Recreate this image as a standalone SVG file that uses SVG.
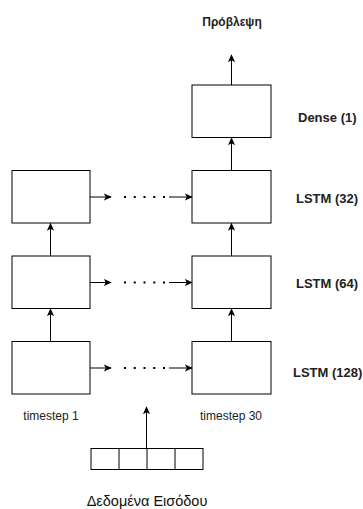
<svg xmlns="http://www.w3.org/2000/svg" width="363" height="509" viewBox="0 0 363 509">
<defs>
<marker id="ah" viewBox="0 0 10 10" refX="9" refY="5" markerWidth="8" markerHeight="8" markerUnits="userSpaceOnUse" orient="auto">
<path d="M0,0.5 L10,5 L0,9.5 L2.5,5 Z" fill="#000"/>
</marker>
<style>
.box{fill:#fff;stroke:#000;stroke-width:1}
.ln{fill:none;stroke:#000;stroke-width:1}
.dot{fill:none;stroke:#000;stroke-width:2;stroke-dasharray:2 7.75}
.lbl{font-family:"Liberation Sans",Arial,sans-serif;font-size:13px;font-weight:bold;fill:#222}
.ts{font-family:"Liberation Sans",Arial,sans-serif;font-size:12px;fill:#222}
.big{font-family:"Liberation Sans",Arial,sans-serif;font-size:14.5px;fill:#111}
</style>
</defs>
<rect width="363" height="509" fill="#fff"/>
<g id="connectors">
<line class="ln" x1="231.5" y1="85" x2="231.5" y2="55" marker-end="url(#ah)"/>
<line class="ln" x1="231.5" y1="170.5" x2="231.5" y2="138" marker-end="url(#ah)"/>
<line class="ln" x1="231.5" y1="256" x2="231.5" y2="223.5" marker-end="url(#ah)"/>
<line class="ln" x1="231.5" y1="341.5" x2="231.5" y2="309" marker-end="url(#ah)"/>
<line class="ln" x1="50.5" y1="256" x2="50.5" y2="223.5" marker-end="url(#ah)"/>
<line class="ln" x1="50.5" y1="341.5" x2="50.5" y2="309" marker-end="url(#ah)"/>
<line class="ln" x1="146.5" y1="448" x2="146.5" y2="407" marker-end="url(#ah)"/>
<line class="ln" x1="90" y1="197" x2="111" y2="197" marker-end="url(#ah)"/>
<line class="dot" x1="124" y1="197" x2="165" y2="197"/>
<line class="ln" x1="169" y1="197" x2="192" y2="197" marker-end="url(#ah)"/>
<line class="ln" x1="90" y1="282.5" x2="111" y2="282.5" marker-end="url(#ah)"/>
<line class="dot" x1="124" y1="282.5" x2="165" y2="282.5"/>
<line class="ln" x1="169" y1="282.5" x2="192" y2="282.5" marker-end="url(#ah)"/>
<line class="ln" x1="90" y1="368" x2="111" y2="368" marker-end="url(#ah)"/>
<line class="dot" x1="124" y1="368" x2="165" y2="368"/>
<line class="ln" x1="169" y1="368" x2="192" y2="368" marker-end="url(#ah)"/>
</g>
<g id="dense"><rect class="box" x="192" y="85" width="79" height="52.5"/></g>
<g id="lstm32_t1"><rect class="box" x="12" y="170.5" width="78" height="52.5"/></g>
<g id="lstm32_t30"><rect class="box" x="192" y="170.5" width="79" height="52.5"/></g>
<g id="lstm64_t1"><rect class="box" x="12" y="256" width="78" height="52.5"/></g>
<g id="lstm64_t30"><rect class="box" x="192" y="256" width="79" height="52.5"/></g>
<g id="lstm128_t1"><rect class="box" x="12" y="341.5" width="78" height="52.5"/></g>
<g id="lstm128_t30"><rect class="box" x="192" y="341.5" width="79" height="52.5"/></g>
<g id="input">
<rect class="box" x="91" y="448.5" width="112" height="21"/>
<line class="ln" x1="119" y1="448.5" x2="119" y2="469.5"/>
<line class="ln" x1="147" y1="448.5" x2="147" y2="469.5"/>
<line class="ln" x1="175" y1="448.5" x2="175" y2="469.5"/>
</g>
<g id="labels">
<text class="lbl" x="232" y="26" text-anchor="middle" style="font-size:12px">Πρόβλεψη</text>
<text class="lbl" x="298" y="122">Dense (1)</text>
<text class="lbl" x="296" y="202.5">LSTM (32)</text>
<text class="lbl" x="296" y="288">LSTM (64)</text>
<text class="lbl" x="293" y="377">LSTM (128)</text>
<text class="ts" x="51" y="420" text-anchor="middle">timestep 1</text>
<text class="ts" x="231" y="420" text-anchor="middle">timestep 30</text>
<text class="big" x="147" y="506" text-anchor="middle">Δεδομένα Εισόδου</text>
</g>
</svg>
